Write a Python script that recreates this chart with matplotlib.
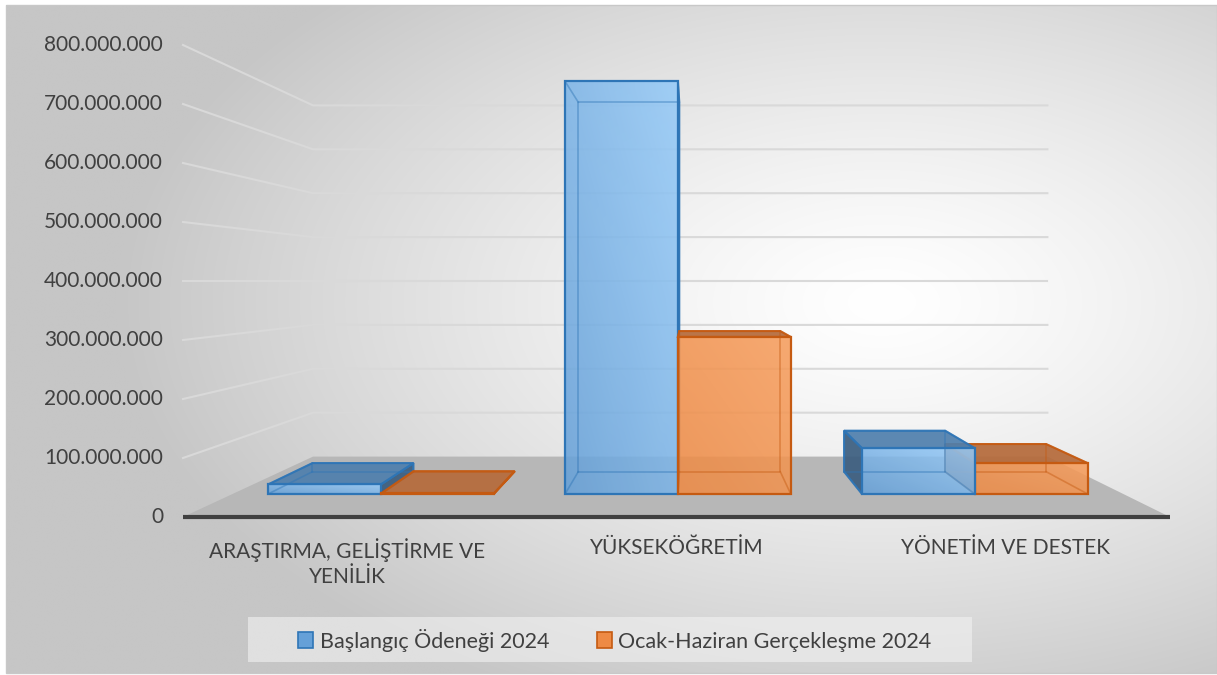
import numpy as np
import matplotlib.pyplot as plt
from matplotlib.colors import to_rgb
from matplotlib.patches import Polygon, Rectangle, Patch

plt.rcParams['font.family'] = ['Lato', 'DejaVu Sans']

# data
categories = ["ARAŞTIRMA, GELİŞTİRME VE\nYENİLİK", "YÜKSEKÖĞRETİM", "YÖNETİM VE DESTEK"]
baslangic = [18e6, 775e6, 86e6]
gerceklesme = [1e6, 295e6, 58e6]
series_names = ["Başlangıç Ödeneği 2024", "Ocak-Haziran Gerçekleşme 2024"]
y_ticks = [0, 100e6, 200e6, 300e6, 400e6, 500e6, 600e6, 700e6, 800e6]

# simple perspective set-up (pixel space of the 1217x675 canvas)
W, H = 1217, 675
VP_X, VP_Y = 691, 281          # vanishing point
X_LEFT, X_RIGHT = 183, 1170    # front edge of the floor
Y0 = 517                       # front baseline
PX_PER = 472 / 800e6           # front plane pixels per unit
Z_BACK = 0.344                 # depth of back wall
BAR_Z = (0.108, 0.2376)        # bar depth range
BAR_W = 0.38                   # bar width as share of category slot

TEXT = "#404040"
GRID = "#d9d9d9"
BLUE = dict(front=("#65a0d8", "#95caf8"), top="#4f7fad", side="#3b5d7f", edge="#2e75b6")
ORANGE = dict(front=("#ee8a44", "#f69c5a"), top="#b56a3a", side="#8f5230", edge="#c55a11")


def proj(xw, v, z):
    s = 1.0 / (1.0 + z)
    return VP_X + s * (xw - VP_X), VP_Y + s * (Y0 - PX_PER * v - VP_Y)


fig = plt.figure(figsize=(W / 100, H / 100), dpi=100)
ax = fig.add_axes([0, 0, 1, 1])
ax.set_xlim(0, W)
ax.set_ylim(H, 0)
ax.axis("off")

# background gradient
yy, xx = np.mgrid[0:H:2, 0:W:2]
r = np.sqrt(((xx - 880) / 900.0) ** 2 + ((yy - 300) / 520.0) ** 2)
g = np.clip(255 - 70 * r ** 1.3, 198, 255) / 255.0
bg = np.dstack([g, g, g])
ax.imshow(bg, extent=(6, W, 673, 5), zorder=0, aspect="auto", interpolation="bilinear")
ax.add_patch(Rectangle((6, 5), W - 6, 668, fill=False, edgecolor="#c8c8c8", lw=1, zorder=0.5))

# walls: gridlines on left and back wall
for v in y_ticks[1:]:
    p0 = proj(X_LEFT, v, 0)
    p1 = proj(X_LEFT, v, Z_BACK)
    p2 = proj(X_RIGHT, v, Z_BACK)
    ax.plot([p0[0], p1[0], p2[0]], [p0[1], p1[1], p2[1]], color=GRID, lw=1.5, zorder=1)

# floor
floor = [proj(X_LEFT, 0, 0), proj(X_RIGHT, 0, 0), proj(X_RIGHT, 0, Z_BACK), proj(X_LEFT, 0, Z_BACK)]
ax.add_patch(Polygon(floor, closed=True, facecolor="#b7b7b7", edgecolor="none", zorder=2))
fl, fr = proj(X_LEFT, 0, 0), proj(X_RIGHT, 0, 0)
ax.plot([fl[0], fr[0]], [fl[1], fr[1]], color="#404040", lw=3, solid_capstyle="butt", zorder=3)

# y tick labels
for v in y_ticks:
    lbl = "0" if v == 0 else f"{int(v):,}".replace(",", ".")
    ax.text(163, proj(X_LEFT, v, 0)[1], lbl, ha="right", va="center", fontsize=15, color=TEXT)


def draw_box(x0, x1, v, style, zo):
    z0, z1 = BAR_Z
    P = proj
    front = [P(x0, 0, z0), P(x1, 0, z0), P(x1, v, z0), P(x0, v, z0)]
    top = [P(x0, v, z0), P(x1, v, z0), P(x1, v, z1), P(x0, v, z1)]
    left = [P(x0, 0, z0), P(x0, 0, z1), P(x0, v, z1), P(x0, v, z0)]
    right = [P(x1, 0, z0), P(x1, 0, z1), P(x1, v, z1), P(x1, v, z0)]
    if x0 > VP_X:
        ax.add_patch(Polygon(left, closed=True, facecolor=style["side"], edgecolor=style["edge"],
                             lw=1.5, alpha=0.92, zorder=zo))
    if x1 < VP_X:
        ax.add_patch(Polygon(right, closed=True, facecolor=style["side"], edgecolor=style["edge"],
                             lw=1.5, alpha=0.92, zorder=zo))
    if top[2][1] < top[1][1]:
        ax.add_patch(Polygon(top, closed=True, facecolor=style["top"], edgecolor=style["edge"],
                             lw=1.5, alpha=0.92, zorder=zo))
    # front face with a soft gradient, slightly see-through
    fp = Polygon(front, closed=True, facecolor="none", edgecolor="none", zorder=zo + 0.1)
    ax.add_patch(fp)
    if abs(front[2][1] - front[1][1]) > 0.5:
        c0 = np.array(to_rgb(style["front"][0]))
        c1 = np.array(to_rgb(style["front"][1]))
        t = np.linspace(0, 1, 32)
        tt = (t[None, :] + t[::-1][:, None]) / 2  # darker bottom-left, lighter top-right
        img = c0[None, None, :] * (1 - tt[..., None]) + c1[None, None, :] * tt[..., None]
        xs = [p[0] for p in front]
        ys = [p[1] for p in front]
        im = ax.imshow(img, extent=(min(xs), max(xs), max(ys), min(ys)), aspect="auto",
                       interpolation="bilinear", zorder=zo + 0.1, alpha=0.86)
        im.set_clip_path(fp)
    # hidden edges seen through
    hid = [P(x0, 0, z1), P(x1, 0, z1), P(x1, v, z1), P(x0, v, z1)]
    hx = [p[0] for p in hid] + [hid[0][0]]
    hy = [p[1] for p in hid] + [hid[0][1]]
    ax.plot(hx, hy, color=style["edge"], lw=1.2, alpha=0.45, zorder=zo + 0.2)
    for xe in (x0, x1):
        for ve in (0, v):
            pa, pb = P(xe, ve, z0), P(xe, ve, z1)
            ax.plot([pa[0], pb[0]], [pa[1], pb[1]], color=style["edge"], lw=1.2, alpha=0.45,
                    zorder=zo + 0.2)
    ax.add_patch(Polygon(front, closed=True, facecolor="none", edgecolor=style["edge"], lw=1.6,
                         zorder=zo + 0.3))


slot = (X_RIGHT - X_LEFT) / len(categories)
bw = BAR_W * slot
for i, cat in enumerate(categories):
    cx = X_LEFT + (i + 0.5) * slot
    boxes = [(cx - bw, cx, baslangic[i], BLUE), (cx, cx + bw, gerceklesme[i], ORANGE)]
    if cx > VP_X:
        boxes = boxes[::-1]
    for k, (a, b, v, st) in enumerate(boxes):
        draw_box(a, b, v, st, 5 + k)
    ax.text(proj(cx, 0, 0)[0], 538, cat, ha="center", va="top", fontsize=15, color=TEXT,
            linespacing=1.3)

# legend
ax.add_patch(Rectangle((248, 617), 724, 45, facecolor="#f2f2f2", edgecolor="none", alpha=0.6, zorder=1))
handles = [Patch(facecolor=BLUE["front"][0], edgecolor=BLUE["edge"], lw=1.2, label=series_names[0]),
           Patch(facecolor=ORANGE["front"][0], edgecolor=ORANGE["edge"], lw=1.2, label=series_names[1])]
leg = ax.legend(handles=handles, loc="center", bbox_to_anchor=(615 / W, 1 - 640 / H),
                bbox_transform=fig.transFigure, ncol=2, frameon=False, fontsize=15.5,
                handlelength=0.7, handleheight=0.7, handletextpad=0.3, columnspacing=2.2)
for t in leg.get_texts():
    t.set_color(TEXT)

fig.savefig("out.png", dpi=100)
